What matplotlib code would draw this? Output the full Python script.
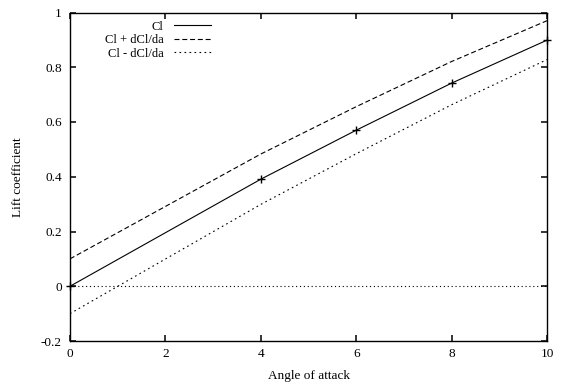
import numpy as np
import matplotlib
matplotlib.use('Agg')
import matplotlib.pyplot as plt

# angle of attack (deg), lift coefficient and its slope
alpha = [0, 4, 6, 8, 10]
cl = [0.0, 0.391, 0.570, 0.742, 0.899]
dcl_da = [0.100, 0.092, 0.086, 0.079, 0.071]

xticks = [0, 2, 4, 6, 8, 10]
yticks = [-0.2, 0, 0.2, 0.4, 0.6, 0.8, 1]
ytick_labels = ['-0.2', '0', '0.2', '0.4', '0.6', '0.8', '1']

plt.rcParams['font.family'] = ['Liberation Serif', 'DejaVu Serif']
plt.rcParams['font.size'] = 9

cl_arr = np.array(cl)
slope = np.array(dcl_da)

fig = plt.figure(figsize=(5.61, 3.85), dpi=100)
ax = fig.add_axes([70 / 561, 44 / 385, 477 / 561, 328.5 / 385])

ax.axhline(0, color='black', linewidth=0.8, linestyle=(0, (1, 2.5)))
ax.plot(alpha, cl_arr, color='black', linewidth=0.8, label='Cl')
ax.plot(alpha, cl_arr, linestyle='none', marker='+', markersize=6,
        markeredgewidth=1, color='black', clip_on=False)
ax.plot(alpha, cl_arr + slope, color='black', linewidth=0.8,
        linestyle=(0, (4.5, 2.5)), label='Cl + dCl/da')
ax.plot(alpha, cl_arr - slope, color='black', linewidth=0.8,
        linestyle=(0, (1.5, 3)), label='Cl - dCl/da')

ax.set_xlim(0, 10)
ax.set_ylim(-0.2, 1)
ax.set_xticks(xticks)
ax.set_yticks(yticks)
ax.set_yticklabels(ytick_labels)
ax.tick_params(direction='in', length=4.5, width=1.1, top=True, right=True,
               labelsize=9.5)
ax.tick_params(axis='x', pad=5)
ax.tick_params(axis='y', pad=6)
for s in ax.spines.values():
    s.set_linewidth(1.0)

ax.set_xlabel('Angle of attack', fontsize=9.5, labelpad=7)
ax.set_ylabel('Lift coefficient', fontsize=9.5, labelpad=12)

leg = ax.legend(loc='upper right', bbox_to_anchor=(0.313, 1.0), frameon=False,
                markerfirst=False, handlelength=3.0, handletextpad=0.8,
                labelspacing=0.12, borderpad=0.15, fontsize=9)

fig.savefig('out.png', dpi=100)
